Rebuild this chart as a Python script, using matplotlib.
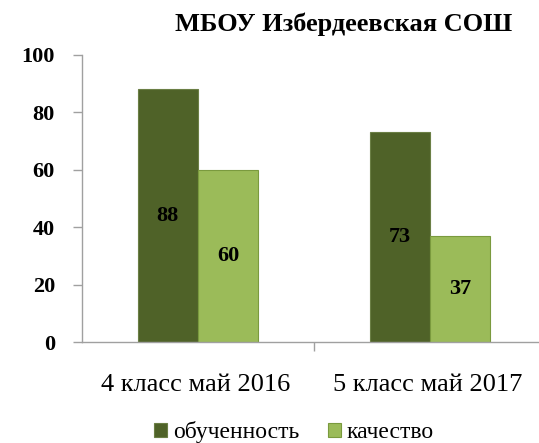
import numpy as np
import matplotlib.pyplot as plt

categories = ["4 класс май 2016", "5 класс май 2017"]
series_names = ["обученность", "качество"]
obuch = [88, 73]
kach = [60, 37]

colors = ["#4F6228", "#9BBB59"]
edges = ["#6B7F45", "#7A9A3E"]

W, H = 539, 443
fig = plt.figure(figsize=(W / 100, H / 100), dpi=100)
# axes: left at x=82px, zero at y=342px, 100 at y=55px, right beyond edge
ax = fig.add_axes([82 / W, (H - 342) / H, (546 - 82) / W, (342 - 55) / H])

x = np.arange(len(categories))
bw = 0.26
b1 = ax.bar(x - bw / 2, obuch, bw, color=colors[0], edgecolor=edges[0], linewidth=0.8, label=series_names[0])
b2 = ax.bar(x + bw / 2, kach, bw, color=colors[1], edgecolor=edges[1], linewidth=0.8, label=series_names[1])

for bars in (b1, b2):
    for b in bars:
        ax.text(b.get_x() + b.get_width() / 2, b.get_height() / 2, str(int(b.get_height())),
                ha="center", va="center", fontsize=16, fontweight="bold", family="Liberation Serif")

ax.set_xlim(-0.5, 1.5)
ax.set_ylim(0, 100)
ax.set_yticks(range(0, 101, 20))
ax.set_xticks([0.5])
ax.set_xticklabels([""])
ax.tick_params(axis="x", direction="out", length=6.5, color="#A0A0A0", width=1)
ax.tick_params(axis="y", direction="out", length=6.5, color="#A0A0A0", width=1, pad=13)
for lbl in ax.get_yticklabels():
    lbl.set_fontsize(16)
    lbl.set_fontweight("bold")
    lbl.set_family("Liberation Serif")

for i, c in enumerate(categories):
    ax.text(x[i] - 0.01, -15, c, ha="center", va="center", fontsize=19, family="Liberation Serif")

for s in ("top", "right"):
    ax.spines[s].set_visible(False)
for s in ("left", "bottom"):
    ax.spines[s].set_color("#A0A0A0")
    ax.spines[s].set_linewidth(1)

fig.text(344 / W, 1 - 24 / H, "МБОУ Избердеевская СОШ", ha="center", va="center",
         fontsize=19, fontweight="bold", family="Liberation Serif")

fig.legend(loc="center", bbox_to_anchor=(294 / W, 1 - 432 / H), ncol=2, frameon=False,
           prop={"family": "Liberation Serif", "size": 17}, handlelength=0.55, handleheight=0.55,
           handletextpad=0.25, columnspacing=1.2, borderpad=0)

fig.savefig("out.png", dpi=100)
